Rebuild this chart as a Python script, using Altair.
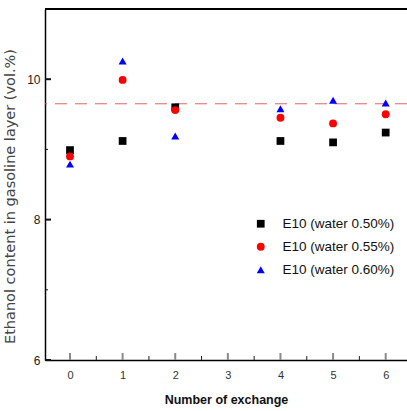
import altair as alt
import pandas as pd

# Ethanol content in the gasoline layer after each water exchange
exchange = [0, 1, 2, 4, 5, 6]
water_050 = [8.99, 9.12, 9.60, 9.12, 9.10, 9.24]
water_055 = [8.90, 9.99, 9.56, 9.45, 9.37, 9.50]
water_060 = [8.79, 10.26, 9.19, 9.58, 9.70, 9.66]

series_names = ["E10 (water 0.50%)", "E10 (water 0.55%)", "E10 (water 0.60%)"]
series_colors = ["#000000", "#ff0000", "#0000ff"]
series_shapes = ["square", "circle", "triangle-up"]
series_sizes = [60, 64, 85]

reference_level = 9.65
x_major = [0, 1, 2, 3, 4, 5, 6]
x_minor = [0.5, 1.5, 2.5, 3.5, 4.5, 5.5]
y_major = [6, 8, 10]
y_minor = [7, 9]

rows = []
for name, vals in zip(series_names, [water_050, water_055, water_060]):
    for x, v in zip(exchange, vals):
        rows.append({"exchange": x, "ethanol": v, "series": name})
df = pd.DataFrame(rows)

X_DOM = [-0.475, 6.405]
Y_DOM = [6, 11]
sans = "'Liberation Sans', Arial, sans-serif"

xs = alt.Scale(domain=X_DOM, nice=False, zero=False)
ys = alt.Scale(domain=Y_DOM, nice=False, zero=False)

legend = alt.Legend(title=None, orient="none", legendX=209, legendY=208,
                    padding=0, labelOffset=15, rowPadding=8,
                    labelFont=sans, labelFontSize=13.5, labelColor="#111",
                    symbolStrokeWidth=0)

points = alt.Chart(df).mark_point(filled=True, opacity=1, strokeWidth=0).encode(
    x=alt.X("exchange:Q", scale=xs,
            axis=alt.Axis(values=x_major, format="d", ticks=False, tickSize=0, grid=False,
                          domainColor="#000", domainWidth=1.5, labelPadding=9,
                          labelFont=sans, labelFontSize=11, labelColor="#333",
                          title="Number of exchange", titleFont=sans, titleFontSize=12.5,
                          titleFontWeight="bold", titleColor="#111", titlePadding=13)),
    y=alt.Y("ethanol:Q", scale=ys,
            axis=alt.Axis(values=y_major, format="d", ticks=False, tickSize=0, grid=False,
                          domainColor="#000", domainWidth=1.5, labelPadding=5,
                          labelFont=sans, labelFontSize=12, labelColor="#222",
                          title="Ethanol content in gasoline layer (vol.%)",
                          titleFont="DejaVu Sans", titleFontSize=14.5, titleFontWeight="normal",
                          titleColor="#444", titlePadding=9, titleY=187)),
    color=alt.Color("series:N", scale=alt.Scale(domain=series_names, range=series_colors),
                    legend=legend),
    shape=alt.Shape("series:N", scale=alt.Scale(domain=series_names, range=series_shapes)),
    size=alt.Size("series:N", scale=alt.Scale(domain=series_names, range=series_sizes)),
    order=alt.Order("series:N"),
)

ref_line = alt.Chart().mark_rule(color="#d95454", strokeWidth=0.9, strokeDash=[12, 8]).encode(
    y=alt.datum(reference_level, scale=ys)
)

top_border = alt.Chart().mark_rule(color="#000", strokeWidth=2).encode(
    y=alt.datum(Y_DOM[1], scale=ys)
)

tick_x_major = alt.Chart(pd.DataFrame({"t": x_major})).mark_rule(
    color="#8a8a8a", strokeWidth=2, y2Offset=-7
).encode(x=alt.X("t:Q", scale=xs), y=alt.datum(Y_DOM[0], scale=ys), y2=alt.datum(Y_DOM[0]))

tick_x_minor = alt.Chart(pd.DataFrame({"t": x_minor})).mark_rule(
    color="#222", strokeWidth=1, y2Offset=-4
).encode(x=alt.X("t:Q", scale=xs), y=alt.datum(Y_DOM[0], scale=ys), y2=alt.datum(Y_DOM[0]))

tick_y_major = alt.Chart(pd.DataFrame({"t": y_major})).mark_rule(
    color="#111", strokeWidth=2, x2Offset=6
).encode(y=alt.Y("t:Q", scale=ys), x=alt.datum(X_DOM[0], scale=xs), x2=alt.datum(X_DOM[0]))

tick_y_minor = alt.Chart(pd.DataFrame({"t": y_minor})).mark_rule(
    color="#111", strokeWidth=1, x2Offset=3
).encode(y=alt.Y("t:Q", scale=ys), x=alt.datum(X_DOM[0], scale=xs), x2=alt.datum(X_DOM[0]))

chart = alt.layer(
    ref_line, top_border, tick_x_major, tick_x_minor, tick_y_major, tick_y_minor, points
).properties(
    width=362, height=351,
    autosize=alt.AutoSizeParams(type="none"),
    padding={"left": 45, "top": 9, "right": 0, "bottom": 51},
).configure_view(stroke=None).configure(background="white")

chart.save("out.html", embed_options={"renderer": "svg", "actions": False})
